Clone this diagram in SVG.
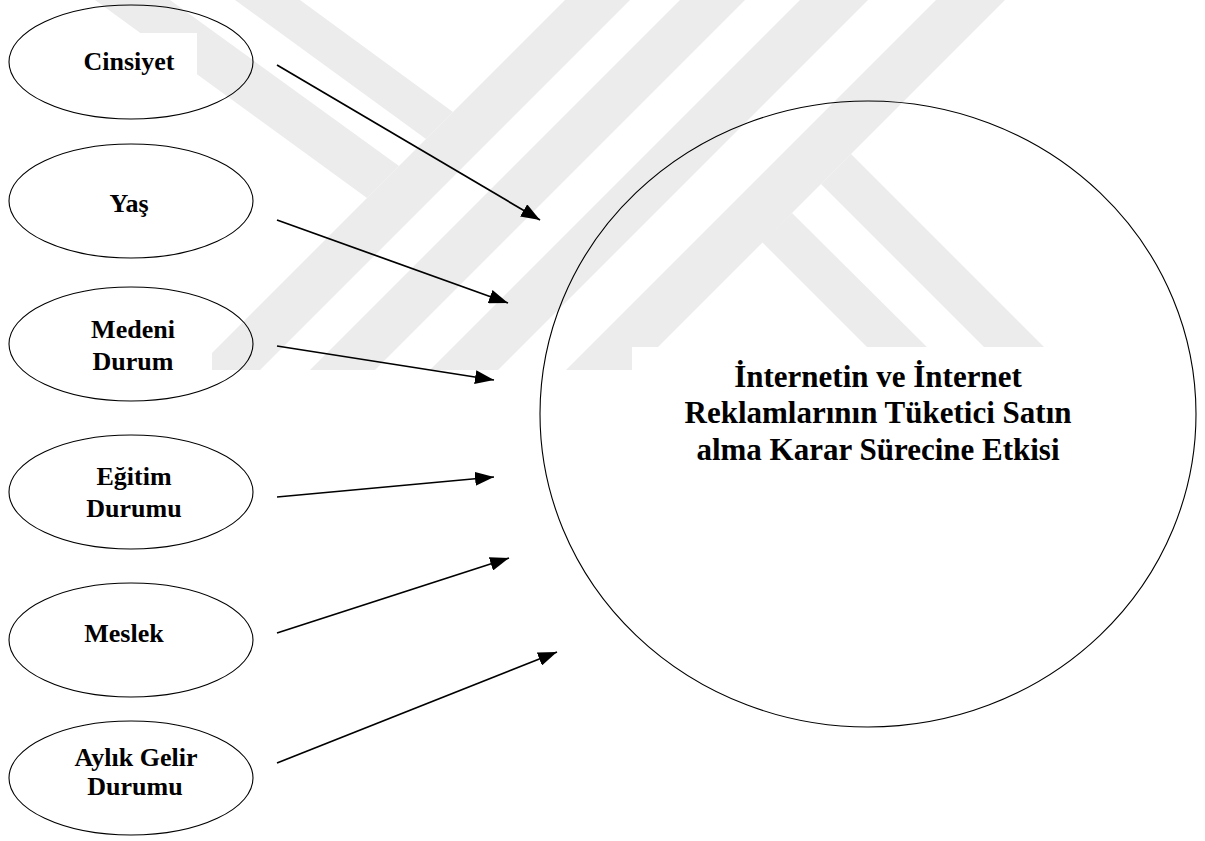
<svg xmlns="http://www.w3.org/2000/svg" width="1205" height="841" viewBox="0 0 1205 841">
<defs>
<style>
.wm { fill: #ececec; }
.box { fill: #ffffff; }
.node ellipse { fill: none; stroke: #000; stroke-width: 1.1; }
.lbl { font-family: "Liberation Serif", "Times New Roman", serif; font-weight: bold; font-size: 26px; fill: #000; text-anchor: middle; }
.big { font-size: 31px; }
.conn line { stroke: #000; stroke-width: 1.7; marker-end: url(#arr); }
</style>
<marker id="arr" viewBox="0 0 19 14" refX="19" refY="7" markerWidth="19" markerHeight="14" markerUnits="userSpaceOnUse" orient="auto">
<path d="M0,0 L19,7 L0,14 z" fill="#000"/>
</marker>
</defs>
<rect width="1205" height="841" fill="#ffffff"/>
<g id="watermark">
<polygon class="wm" points="95,0 170,0 399,166 367,198"/>
<polygon class="wm" points="235,0 300,0 453,112 426,139"/>
<polygon class="wm" points="565,0 630,0 260,370 195,370"/>
<polygon class="wm" points="680,0 745,0 375,370 310,370"/>
<polygon class="wm" points="800,0 868,0 498,370 430,370"/>
<polygon class="wm" points="936,0 1005,0 635,370 566,370"/>
<polygon class="wm" points="851,154 1067,370 1007,370 821,184"/>
<polygon class="wm" points="792,213 950,370 890,370 762,242"/>
</g>
<g id="textboxes">
<rect class="box" x="62" y="33" width="135" height="54"/>
<rect class="box" x="78" y="182" width="99" height="73"/>
<rect class="box" x="55" y="300" width="157" height="100"/>
<rect class="box" x="632" y="347" width="498" height="128"/>
</g>
<g id="n-cinsiyet" class="node">
<ellipse cx="131" cy="62" rx="122" ry="57"/>
<text class="lbl" x="129" y="70">Cinsiyet</text>
</g>
<g id="n-yas" class="node">
<ellipse cx="131" cy="201" rx="122" ry="57"/>
<text class="lbl" x="129" y="212">Yaş</text>
</g>
<g id="n-medeni" class="node">
<ellipse cx="131" cy="344" rx="122" ry="57"/>
<text class="lbl" x="133" y="338">Medeni</text>
<text class="lbl" x="133" y="370">Durum</text>
</g>
<g id="n-egitim" class="node">
<ellipse cx="131" cy="492" rx="122" ry="57"/>
<text class="lbl" x="134" y="485">Eğitim</text>
<text class="lbl" x="134" y="517">Durumu</text>
</g>
<g id="n-meslek" class="node">
<ellipse cx="131" cy="640" rx="122" ry="57"/>
<text class="lbl" x="124" y="642">Meslek</text>
</g>
<g id="n-gelir" class="node">
<ellipse cx="131" cy="778" rx="122" ry="57"/>
<text class="lbl" x="136" y="766">Aylık Gelir</text>
<text class="lbl" x="135" y="795">Durumu</text>
</g>
<g id="n-etki" class="node">
<ellipse cx="868" cy="414" rx="328" ry="313"/>
<text class="lbl big" x="878" y="387">İnternetin ve İnternet</text>
<text class="lbl big" x="878" y="423">Reklamlarının Tüketici Satın</text>
<text class="lbl big" x="878" y="460">alma Karar Sürecine Etkisi</text>
</g>
<g id="connectors" class="conn">
<line x1="277" y1="65" x2="540" y2="220"/>
<line x1="277" y1="220" x2="508" y2="303"/>
<line x1="277" y1="346" x2="494" y2="380"/>
<line x1="277" y1="497" x2="494" y2="477"/>
<line x1="277" y1="633" x2="509" y2="558"/>
<line x1="277" y1="763" x2="557" y2="652"/>
</g>
</svg>
